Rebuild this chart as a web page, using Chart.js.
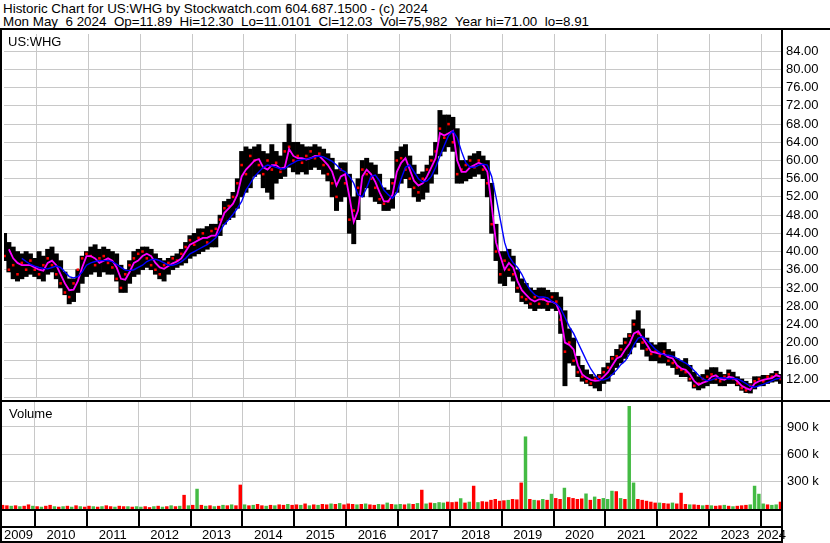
<!DOCTYPE html>
<html>
<head>
<meta charset="utf-8">
<script src="https://cdn.jsdelivr.net/npm/chart.js@4.4.1/dist/chart.umd.min.js"></script>
<style>
  body { margin: 0; background: #fff; }
  #wrap { position: relative; width: 830px; height: 543px; overflow: hidden; font-family: "Liberation Sans", Arial, sans-serif; color: #000; }
  .txt { position: absolute; font-size: 13px; line-height: 13px; white-space: pre; }
  .hdr { font-size: 13.4px; }
  .ln { position: absolute; background: #000; }
  canvas { position: absolute; left: 0; }
</style>
</head>
<body>
<div id="wrap">
  <div class="txt hdr" style="left:3px;top:2px">Historic Chart for US:WHG by Stockwatch.com 604.687.1500 - (c) 2024</div>
  <div class="txt hdr" style="left:3px;top:15px">Mon May &#160;6 2024 &#160;Op=11.89 &#160;Hi=12.30 &#160;Lo=11.0101 &#160;Cl=12.03 &#160;Vol=75,982 &#160;Year hi=71.00 &#160;lo=8.91</div>
  <canvas id="price" width="830" height="371" style="top:30px"></canvas>
  <canvas id="volume" width="830" height="142" style="top:401px"></canvas>
  <div class="txt" style="left:8px;top:35px">US:WHG</div>
  <div class="txt" style="left:9px;top:407px">Volume</div>
  <div class="ln" style="left:0;top:28px;width:830px;height:2px"></div>
  <div class="ln" style="left:0;top:28px;width:2px;height:515px"></div>
  <div class="ln" style="left:781px;top:28px;width:2px;height:515px"></div>
  <div class="ln" style="left:0;top:400px;width:830px;height:2px"></div>
  <div class="ln" style="left:0;top:509px;width:783px;height:2px"></div>
  <div class="ln" style="left:0;top:526px;width:783px;height:2px"></div>
  <div class="ln" style="left:0;top:541px;width:783px;height:2px"></div>
</div>
<script>
// monthly readings, first bar = May 2009, last = May 2024
const startYear = 2009, startMonth = 5;

const high = [
  44, 42, 41, 40, 39.5, 40, 39.5, 38.5,
  40, 39, 40.5, 41, 39.5, 38, 35.5, 34, 34, 36, 39, 40,
  41, 41.5, 40.5, 41, 40.5, 40, 39.5, 37, 36, 38, 40, 40.5,
  41, 41, 40.5, 39.5, 38.5, 38, 38.5, 39, 39.5, 40.5, 42, 43.5,
  44, 45, 45, 45.5, 46, 46, 48, 51, 51.5, 53, 56, 62,
  63, 62.5, 63, 63.5, 62, 61.5, 63.5, 62, 61, 64, 68, 64,
  64, 63.5, 63, 63, 63.5, 63, 62.5, 61.5, 60.5, 58, 59.5, 59.5,
  57, 52, 56, 60, 60.5, 59.5, 59, 57, 54, 53.5, 56, 62,
  63, 63.5, 61, 59, 57, 57.5, 59, 61, 64, 71, 70, 70,
  69.5, 67, 60, 60, 61, 61.5, 62, 61, 60, 55, 46, 40,
  40, 40.5, 39, 36, 34, 33, 32, 31.5, 32, 32, 31.5, 31,
  31, 30, 27, 23, 21, 17, 15, 14, 13, 12.5, 13, 14.5,
  15.5, 17, 18.5, 19.5, 21, 22, 25, 27, 23, 21, 20, 19.5,
  20, 20, 18.5, 18, 16.5, 16, 16.5, 15, 13.5, 12.5, 13, 14,
  14.5, 14.5, 13.5, 13, 14, 13.5, 12.5, 12, 11.5, 11, 12.5, 12.5,
  12.8, 12.8, 13.2, 13.7, 13
];
const low = [
  38, 35.5, 34, 33.5, 34, 34.5, 35, 34.5,
  34, 33.5, 35, 35.5, 34, 32, 30.5, 28.5, 29, 31, 33, 34.5,
  35, 35.5, 34.5, 35.5, 35, 35, 33.5, 31, 31, 33, 34.5, 35,
  36, 36.5, 36, 35, 34, 33.5, 35, 36, 36.5, 37, 37.5, 38.5,
  39, 39.5, 40, 40.5, 41, 41, 43.5, 46, 47, 47.5, 49.5, 52,
  53, 54, 56.5, 57, 54, 53, 51.5, 55, 56, 56.5, 58.5, 57.5,
  57, 57.5, 57, 58, 58.5, 58, 57, 55.5, 52, 49, 51, 52,
  44, 41.7, 47, 52, 54, 52, 51, 50.5, 49, 49, 49.5, 53,
  55, 56, 54, 52, 51, 51.5, 53, 55, 57, 61, 62, 63,
  62, 55, 55, 55.5, 56, 56.5, 57, 56, 52, 44, 38, 33,
  32.5, 34.5, 33.5, 31, 29, 28.5, 27.5, 27, 27.5, 27.5, 27, 27.5,
  27, 22, 10.5, 15.5, 15, 12.5, 11.5, 11, 10.5, 10, 9.4, 11,
  11.5, 13, 14.5, 15.5, 16.5, 17.5, 19, 20, 18.5, 17, 16, 16,
  15.5, 15.5, 15, 14.5, 13, 12.5, 12.5, 11.5, 10, 9.6, 10, 10.5,
  11, 11, 10.5, 10.5, 11, 11, 10.5, 9.5, 9, 8.9, 9.8, 10.5,
  10.5, 11, 11.3, 11.5, 11
];
// month-end close, shown as red ticks
const close = [
  39, 36, 37, 35, 37.5, 36, 38, 36,
  35, 37, 38.5, 37, 35, 33, 31, 30, 33, 36, 38.5, 39.5,
  39, 37, 38.5, 39, 37.5, 36.5, 34, 32, 35, 37, 38.5, 39.5,
  40, 38.5, 37, 36, 35, 37, 37.5, 38.5, 38, 39.5, 41, 42.5,
  41.5, 43, 44, 42, 44.5, 45, 47, 49.5, 50, 52, 55, 59,
  57, 61, 60, 59, 57, 60, 58, 59.5, 57.5, 62, 63, 60,
  61, 59.5, 61, 62, 60.5, 61.5, 59, 57, 55, 52, 58, 55,
  47, 49, 54, 58, 57, 56, 54, 51.5, 50.5, 51, 55, 60,
  60.5, 58, 56, 54, 53, 56, 58, 60, 62, 67, 65, 68,
  64, 57, 58, 59, 60, 58.5, 60, 58, 55, 46, 40, 35,
  38, 36, 35, 32, 30, 29.5, 28.5, 30, 28.5, 29.5, 28.5, 30,
  29, 25, 18, 20, 16, 13.5, 12.5, 11.5, 11, 12, 12.5, 13.5,
  14.5, 16.5, 17, 18.5, 20, 21.5, 24, 22, 20, 18.5, 17.5, 18,
  17, 18, 16, 15.5, 14.5, 14, 13.5, 12, 10.5, 11, 12, 12.5,
  13, 12, 11.5, 12.5, 13, 12, 11, 10, 9.5, 10.5, 11.5, 12,
  11.5, 12.5, 12.5, 13, 12
];
// magenta (short) and blue (long) moving averages as drawn
const maShort = [
  null, 40.5, 38.5, 37.5, 37, 37, 37, 36.5,
  36, 35.8, 37.5, 38, 37, 35, 33, 31.5, 31.6, 33.5, 36.5, 39,
  39, 38.5, 37.5, 38, 38.5, 38, 36.5, 34, 33.8, 35.5, 37.5, 38,
  39, 39.5, 39, 37.5, 36.5, 36.2, 36.8, 37.4, 37.8, 38.5, 40, 41.5,
  42, 42.5, 43, 43, 43.5, 43.5, 46, 48.5, 49.5, 50.5, 52.5, 56.5,
  58, 59, 60, 60.3, 58.5, 58, 59, 59, 58.2, 58.5, 62.5, 61,
  60.5, 60.5, 60.2, 60.5, 61, 61, 60, 59, 57.5, 54.5, 56.5, 57,
  52, 46.5, 49, 56.5, 58, 57, 55.3, 53, 51, 51, 52.5, 57.5,
  59.5, 60.5, 58, 55.5, 54.5, 55, 56.5, 58.5, 60.5, 66, 65.5, 66,
  66.5, 60, 57.5, 57.5, 58.5, 59, 59.5, 59, 57.5, 50, 42, 39,
  36, 37.5, 36.5, 33.5, 31.5, 30.5, 29.5, 29, 29.5, 29.5, 29, 29,
  28.5, 26, 20, 19.5, 18.5, 15, 13, 12.3, 11.8, 11.6, 11.7, 12.5,
  13.5, 15, 16.5, 17, 18.5, 19.8, 22, 22.5, 21, 19.5, 18, 17.8,
  17.5, 17.5, 16.8, 16.5, 15, 14.3, 14, 13, 11.5, 10.7, 11.2, 11.5,
  12.5, 12.8, 12, 11.8, 12.5, 12.3, 11.5, 10.5, 10, 9.6, 11, 11.5,
  11.8, 12, 12.2, 12.8, 12.5
];
const maLong = [
  null, null, null, null, 38.5, 37.8, 37.2, 36.8,
  36.5, 36.3, 36.2, 36.5, 36.8, 36.5, 35.5, 34.5, 34.2, 34.5, 35.5, 37,
  37.5, 37.8, 38, 38, 38, 37.8, 37.2, 36.5, 35.9, 35.8, 36, 36.5,
  37, 37.8, 38.2, 38.3, 38, 37.5, 37, 37, 37.3, 37.8, 38.5, 39.5,
  40, 40.5, 41, 41.5, 42.2, 43, 44.5, 46, 47, 48.2, 49.5, 51,
  53.5, 55, 56.5, 57.5, 58.5, 59, 58.8, 58.5, 58.2, 58.2, 59, 59.5,
  60, 60.2, 60.3, 60.5, 60.8, 61, 60.8, 60.3, 59.8, 59, 58, 57.5,
  56.5, 55, 52.5, 52, 54, 56.5, 56.8, 55.5, 53.5, 52.5, 51.7, 53,
  56, 58.5, 59, 57.5, 56, 55.3, 55.5, 56.5, 58.5, 61, 63.3, 65.5,
  66.5, 65, 62, 59.5, 58.5, 58.5, 59, 59.2, 59, 56.5, 52, 47,
  42, 39, 37.5, 36.5, 35, 33, 31.5, 30.5, 30, 30, 29.8, 29,
  28.5, 27.5, 25.5, 23.5, 22, 20, 18, 16, 14.2, 12.8, 11.8, 11.8,
  12.2, 13, 14, 15.2, 16, 17.5, 19.5, 21, 21.3, 20.5, 19.5, 18.5,
  17.8, 17.3, 17.2, 17, 16.5, 16, 15.5, 14.8, 13.8, 12.8, 12, 11.6,
  11.8, 12.2, 12.3, 12.2, 12, 12.1, 12, 11.6, 11, 10.4, 10.2, 10.5,
  10.8, 11.2, 11.6, 12, 12.2
];
// volume in thousands, g = up, r = down
const volume = [
  45, 40, 35, 40, 30, 35, 50, 35,
  30, 25, 35, 45, 30, 25, 30, 35, 25, 40, 30, 25,
  35, 30, 25, 30, 40, 30, 25, 35, 30, 30, 25, 30,
  25, 30, 20, 30, 35, 25, 30, 40, 30, 35, 155, 40,
  45, 222, 45, 35, 40, 30, 35, 45, 40, 50, 40, 267,
  50, 40, 45, 55, 40, 35, 45, 40, 50, 45, 55, 45,
  50, 45, 60, 40, 50, 45, 55, 50, 60, 55, 65, 50,
  60, 55, 50, 55, 60, 50, 45, 55, 50, 70, 55, 50,
  55, 50, 60, 55, 65, 211, 60, 70, 65, 75, 70, 80,
  75, 80, 118, 70, 80, 255, 75, 85, 80, 100, 110, 90,
  95, 100, 110, 105, 290, 796, 110, 100, 95, 110, 100, 167,
  120, 110, 233, 130, 120, 110, 115, 170, 100, 136, 110, 120,
  110, 200, 195, 120, 110, 1130, 290, 110, 100, 90, 80, 70,
  70, 65, 60, 70, 60, 178, 55, 50, 50, 45, 40, 45,
  40, 35, 40, 45, 35, 30, 35, 40, 45, 50, 255, 167,
  60, 50, 45, 50, 80
];
const volDir = ("rrgrgrrg" + "rgrrgrgrgrgr" + "rgrgrrgrrgrg" + "grrgrgrgrgrg" +
  "rgrgrgrgrgrr" + "grgrrgrgrrgr" + "rgrgrgrrgrgr" + "rrgrgrrgrgrg" +
  "grgrgrgrgggr" + "rrgrgrgrrrrr" + "rgrrrgrgrgrg" + "rrgrrrrgrgrg" +
  "ggrgrggrrrrr" + "grrgrrrgrrgr" + "grrgrgrrrggg" + "grggr").split("");

const yearLabels = [2009, 2010, 2011, 2012, 2013, 2014, 2015, 2016, 2017, 2018, 2019, 2020, 2021, 2022, 2023, 2024];
const priceTicks = [12, 16, 20, 24, 28, 32, 36, 40, 44, 48, 52, 56, 60, 64, 68, 72, 76, 80, 84];
const volTicks = [300, 600, 900];

const X_MIN = 2009.364, X_MAX = 2024.404;
const monthX = i => startYear + (startMonth - 1 + i + 0.5) / 12;

const FONT = "13px 'Liberation Sans', Arial, sans-serif";
const GRID = "#c8c8c8";

function xAxis(h) {
  return {
    type: "linear", min: X_MIN, max: X_MAX, offset: false,
    afterBuildTicks: s => { s.ticks = yearLabels.slice(1).map(v => ({ value: v })); },
    afterFit: s => { s.height = h; },
    ticks: { display: false },
    grid: { color: GRID, lineWidth: 1, drawTicks: false, offset: false },
    border: { display: false }
  };
}

function yAxis(min, max, ticks) {
  return {
    position: "right", min: min, max: max,
    afterBuildTicks: s => { s.ticks = ticks.map(v => ({ value: v })); },
    afterFit: s => { s.width = 48; },
    ticks: { display: false },
    grid: { color: GRID, drawTicks: false },
    border: { display: false }
  };
}

// right-hand labels drawn at the scale's own tick positions
function axisLabels(ticks, fmt, dx) {
  return {
    id: "axisLabels",
    afterDraw(chart) {
      const ctx = chart.ctx, ys = chart.scales.y;
      ctx.save();
      ctx.fillStyle = "#000";
      ctx.font = FONT;
      ctx.textAlign = "left";
      ctx.textBaseline = "middle";
      ticks.forEach(v => ctx.fillText(fmt(v), chart.chartArea.right + dx, ys.getPixelForValue(v)));
      ctx.restore();
    }
  };
}

new Chart(document.getElementById("price"), {
  type: "bar",
  data: {
    datasets: [
      { type: "line", data: maLong.map((v, i) => ({ x: monthX(i), y: v })), borderColor: "#0000ff", borderWidth: 1.4, pointRadius: 0, order: 0 },
      { type: "line", data: maShort.map((v, i) => ({ x: monthX(i), y: v })), borderColor: "#ff00ff", borderWidth: 1.8, pointRadius: 0, order: 1 },
      { type: "scatter", data: close.map((v, i) => ({ x: monthX(i), y: v })), pointStyle: "rect", pointRadius: 1.8, backgroundColor: "#ff0000", borderWidth: 0, order: 2 },
      { type: "bar", data: high.map((v, i) => ({ x: monthX(i), y: [low[i], v] })), backgroundColor: "#000", barPercentage: 1, categoryPercentage: 1, order: 3 }
    ]
  },
  options: {
    responsive: false, animation: false, events: [],
    layout: { padding: { left: 2, top: 1, bottom: 1, right: 0 } },
    plugins: { legend: { display: false }, tooltip: { enabled: false } },
    scales: {
      x: xAxis(0),
      y: yAxis(8.04, 87.79, [8].concat(priceTicks))
    }
  },
  plugins: [axisLabels(priceTicks, v => v.toFixed(2), 4)]
});

// year separators and year names under the volume panel
const yearRow = {
  id: "yearRow",
  afterDraw(chart) {
    const ctx = chart.ctx, xs = chart.scales.x;
    ctx.save();
    ctx.fillStyle = "#000";
    yearLabels.slice(1).forEach(y => {
      const px = xs.getPixelForValue(y);
      ctx.fillRect(Math.round(px) - 1, 109, 2, 17);
    });
    ctx.font = FONT;
    ctx.textAlign = "center";
    ctx.textBaseline = "middle";
    yearLabels.forEach(y => {
      const a = xs.getPixelForValue(Math.max(y, X_MIN));
      const b = xs.getPixelForValue(Math.min(y + 1, X_MAX));
      ctx.fillText(String(y), (a + b) / 2, 134);
    });
    ctx.restore();
  }
};

new Chart(document.getElementById("volume"), {
  type: "bar",
  data: {
    datasets: [{
      data: volume.map((v, i) => ({ x: monthX(i), y: v * 1000 })),
      backgroundColor: volDir.map(d => d === "g" ? "#44bb44" : "#ff0000"),
      barPercentage: 0.8, categoryPercentage: 1
    }]
  },
  options: {
    responsive: false, animation: false, events: [],
    layout: { padding: { left: 2, top: 1, bottom: 0, right: 0 } },
    plugins: { legend: { display: false }, tooltip: { enabled: false } },
    scales: {
      x: xAxis(34),
      y: yAxis(0, 1174000, volTicks.map(v => v * 1000))
    }
  },
  plugins: [yearRow, axisLabels(volTicks.map(v => v * 1000), v => (v / 1000) + " k", 5)]
});
</script>
</body>
</html>
